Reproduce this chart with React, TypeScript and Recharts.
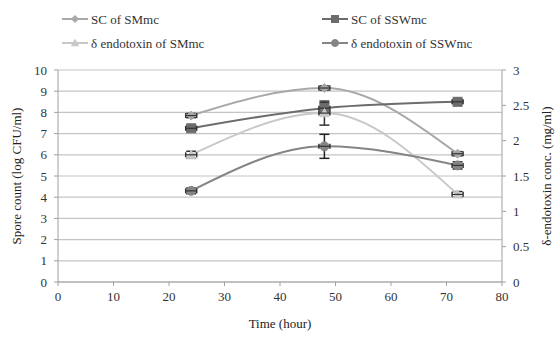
import React from "react";
import { ComposedChart, Line, XAxis, YAxis, CartesianGrid, ErrorBar } from "recharts";

const times = [24, 48, 72];
const scSMmc = [7.85, 9.15, 6.05];
const scSMmcErr = [0.1, 0.1, 0.1];
const scSSWmc = [7.25, 8.2, 8.5];
const scSSWmcErr = [0.12, 0.25, 0.08];
const deltaSMmc = [1.8, 2.39, 1.24];
const deltaSMmcErr = [0.05, 0.17, 0.04];
const deltaSSWmc = [1.29, 1.92, 1.65];
const deltaSSWmcErr = [0.04, 0.17, 0.05];

const xTicks = [0, 10, 20, 30, 40, 50, 60, 70, 80];
const leftTicks = [0, 1, 2, 3, 4, 5, 6, 7, 8, 9, 10];
const rightTicks = [0, 0.5, 1, 1.5, 2, 2.5, 3];

const data = times.map((t, i) => ({
  time: t,
  scSMmc: scSMmc[i],
  scSMmcErr: scSMmcErr[i],
  scSSWmc: scSSWmc[i],
  scSSWmcErr: scSSWmcErr[i],
  deltaSMmc: deltaSMmc[i],
  deltaSMmcErr: deltaSMmcErr[i],
  deltaSSWmc: deltaSSWmc[i],
  deltaSSWmcErr: deltaSSWmcErr[i],
}));

const FONT = "Liberation Serif";
const C1 = "#a8a8a8";
const C2 = "#6c6c6c";
const C3 = "#c8c8c8";
const C4 = "#858585";

type Shape = "diamond" | "square" | "triangle" | "circle";

function marker(shape: Shape, cx: number, cy: number, color: string, s = 4.5) {
  if (shape === "diamond")
    return <path d={`M${cx},${cy - s} L${cx + s},${cy} L${cx},${cy + s} L${cx - s},${cy} Z`} fill={color} stroke={color} />;
  if (shape === "square")
    return <rect x={cx - s} y={cy - s} width={2 * s} height={2 * s} fill={color} stroke={color} />;
  if (shape === "triangle")
    return <path d={`M${cx},${cy - s} L${cx + s},${cy + s * 0.8} L${cx - s},${cy + s * 0.8} Z`} fill={color} stroke={color} />;
  return <circle cx={cx} cy={cy} r={s} fill={color} stroke={color} />;
}

const makeDot = (shape: Shape, color: string) => (p: any) => (
  <g key={`${shape}-${p.index}`}>
    {marker(shape, p.cx, p.cy, color)}
    <line x1={p.cx - 5.5} y1={p.cy} x2={p.cx + 5.5} y2={p.cy} stroke="#333" strokeWidth={1.2} />
    <line x1={p.cx - 5.5} y1={p.cy - 2.5} x2={p.cx - 5.5} y2={p.cy + 2.5} stroke="#333" strokeWidth={1.5} />
    <line x1={p.cx + 5.5} y1={p.cy - 2.5} x2={p.cx + 5.5} y2={p.cy + 2.5} stroke="#333" strokeWidth={1.5} />
  </g>
);

const legendItems: { label: string; shape: Shape; color: string; x: number; y: number }[] = [
  { label: "SC of SMmc", shape: "diamond", color: C1, x: 62, y: 19 },
  { label: "SC of SSWmc", shape: "square", color: C2, x: 322, y: 19 },
  { label: "δ endotoxin of SMmc", shape: "triangle", color: C3, x: 62, y: 43 },
  { label: "δ endotoxin of SSWmc", shape: "circle", color: C4, x: 322, y: 43 },
];

const tickStyle = { fontFamily: FONT, fontSize: 13, fill: "#333" };
const titleStyle = { fontFamily: FONT, fontSize: 13, fill: "#222" };

export default function App() {
  return (
    <div style={{ position: "fixed", left: 0, top: 0, width: 558, height: 337, background: "#fff" }}>
      <svg width={558} height={60} style={{ position: "absolute", left: 0, top: 0 }}>
        {legendItems.map((it) => (
          <g key={it.label}>
            <line x1={it.x} y1={it.y} x2={it.x + 26} y2={it.y} stroke={it.color} strokeWidth={2} />
            {marker(it.shape, it.x + 13, it.y, it.color, 3.5)}
            <text x={it.x + 29} y={it.y + 4.5} fontFamily={FONT} fontSize={13} fill="#333">
              {it.label}
            </text>
          </g>
        ))}
      </svg>
      <div style={{ position: "absolute", left: 0, top: 0 }}>
        <ComposedChart width={558} height={337} data={data} margin={{ top: 70, right: 6, left: 8, bottom: 25 }}>
          <CartesianGrid horizontal vertical={false} stroke="#c4c4c4" strokeWidth={1.2} yAxisId="left" />
          <XAxis
            dataKey="time"
            type="number"
            domain={[0, 80]}
            ticks={xTicks}
            interval={0}
            height={30}
            tickSize={4}
            tickMargin={6}
            stroke="#a0a0a0"
            tick={tickStyle}
            label={{ value: "Time (hour)", position: "insideBottom", offset: -16, style: titleStyle }}
          />
          <YAxis
            yAxisId="left"
            domain={[0, 10]}
            ticks={leftTicks}
            interval={0}
            width={50}
            tickSize={4}
            tickMargin={7}
            stroke="#a0a0a0"
            tick={tickStyle}
            label={{ value: "Spore count (log CFU/ml)", angle: -90, position: "insideLeft", offset: 8, style: { ...titleStyle, textAnchor: "middle" } }}
          />
          <YAxis
            yAxisId="right"
            orientation="right"
            domain={[0, 3]}
            ticks={rightTicks}
            interval={0}
            width={50}
            tickSize={4}
            tickMargin={7}
            stroke="#a0a0a0"
            tick={tickStyle}
            label={{ value: "δ-endotoxin conc. (mg/ml)", angle: -90, position: "insideRight", offset: 6, style: { ...titleStyle, textAnchor: "middle" } }}
          />
          <Line yAxisId="left" type="monotone" dataKey="scSMmc" stroke={C1} strokeWidth={2} dot={makeDot("diamond", C1)} isAnimationActive={false}>
            <ErrorBar dataKey="scSMmcErr" direction="y" width={5} stroke="#333" strokeWidth={1.5} />
          </Line>
          <Line yAxisId="left" type="monotone" dataKey="scSSWmc" stroke={C2} strokeWidth={2} dot={makeDot("square", C2)} isAnimationActive={false}>
            <ErrorBar dataKey="scSSWmcErr" direction="y" width={5} stroke="#222" strokeWidth={1.5} />
          </Line>
          <Line yAxisId="right" type="monotone" dataKey="deltaSMmc" stroke={C3} strokeWidth={2} dot={makeDot("triangle", C3)} isAnimationActive={false}>
            <ErrorBar dataKey="deltaSMmcErr" direction="y" width={5} stroke="#333" strokeWidth={1.5} />
          </Line>
          <Line yAxisId="right" type="monotone" dataKey="deltaSSWmc" stroke={C4} strokeWidth={2} dot={makeDot("circle", C4)} isAnimationActive={false}>
            <ErrorBar dataKey="deltaSSWmcErr" direction="y" width={5} stroke="#222" strokeWidth={1.5} />
          </Line>
        </ComposedChart>
      </div>
    </div>
  );
}
